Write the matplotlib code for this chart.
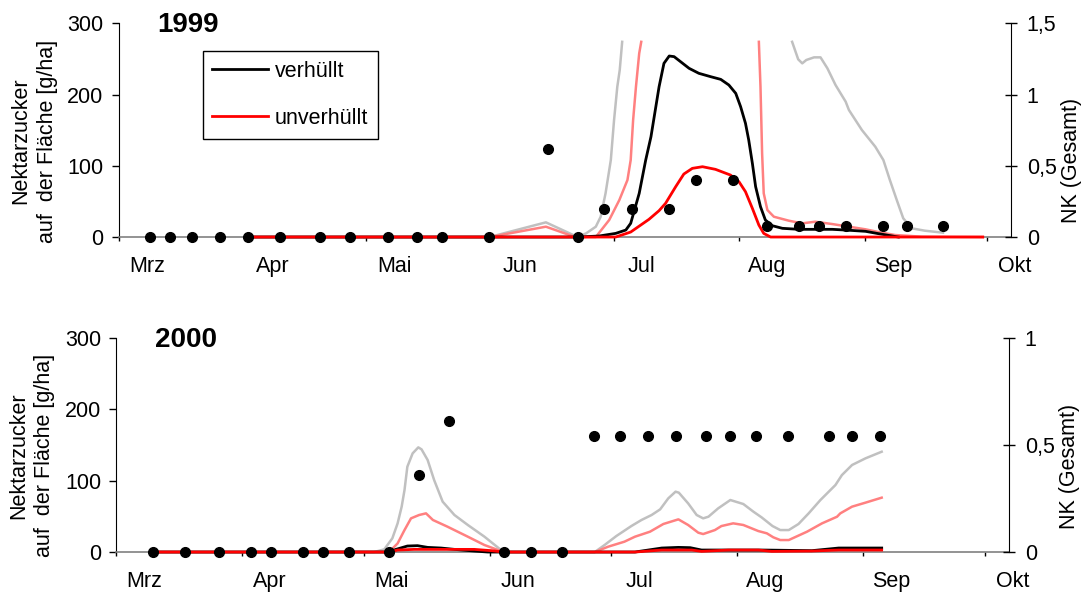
import matplotlib
matplotlib.use("Agg")
import matplotlib.pyplot as plt
from matplotlib.ticker import FuncFormatter
from matplotlib.transforms import ScaledTranslation
import numpy as np

plt.rcParams.update({
    'font.family': ['Liberation Sans', 'DejaVu Sans'],
    'font.size': 15.5,
})

# x axis: days since 1 March
MONTH_START = [0, 31, 61, 92, 122, 153, 184, 214]
MONTH_LABEL = ['Mrz', 'Apr', 'Mai', 'Jun', 'Jul', 'Aug', 'Sep', 'Okt']

# ---- 1999 --------------------------------------------------------------
nk99_day = [7.6, 12.6, 18.0, 25.0, 31.8, 39.8, 49.6, 56.9, 66.3, 73.6, 79.7, 91.3,
            105.7, 113.1, 119.5, 126.4, 135.7, 142.2, 151.5, 159.9, 167.7, 172.7,
            179.4, 188.4, 194.3, 203.2]
nk99 = [0, 0, 0, 0, 0, 0, 0, 0, 0, 0, 0, 0,
        0.62, 0, 0.2, 0.2, 0.2, 0.4, 0.4, 0.08, 0.08, 0.08, 0.08, 0.08, 0.08, 0.08]

black99_day = [31.8, 113.1, 118.4, 122.5, 125.0, 126.2, 128.3, 129.9, 131.2, 132.0,
               133.2, 134.4, 135.7, 136.9, 138.5, 140.6, 143.0, 145.9, 148.4, 150.4,
               152.1, 153.3, 154.5, 155.3, 156.2, 157.0, 158.2, 159.4, 161.1, 163.6,
               167.7, 175.9, 180.0, 184.1, 187.3, 192.2]
black99 = [0, 0, 1.4, 5.1, 9.8, 19.2, 61.3, 108, 140.8, 168.9,
           211, 243.8, 254.1, 253.2, 246.1, 236.8, 229.8, 225.1, 221.3, 213.4,
           201.7, 183, 159.6, 136.2, 103.4, 70.7, 42.6, 23.9, 15.9, 12.2,
           10.8, 10.8, 9.5, 8.0, 4.7, 0]

red99_day = [31.8, 122.5, 126.2, 130.7, 133.2, 134.8, 137.3, 139.3, 141.4, 143.9,
             147.1, 150.8, 152.9, 154.5, 156.2, 157.8, 159.0, 160.7, 213.0]
red99 = [0, 0, 7, 24.8, 37, 47.3, 70.7, 88.4, 96.4, 98.7,
         95, 87, 77.6, 63.6, 40.2, 16.8, 5.1, 0, 0]

gray99_day = [31.8, 91.4, 105.3, 113.1, 115.2, 117.6, 118.8, 120.0, 121.3, 122.1,
              122.9, 123.5, 124.1, np.nan, 166.0, 167.5, 168.5, 169.5, 171.4, 173.0,
              174.7, 176.7, 179.2, 180.0, 183.2, 186.5, 188.5, 190.1, 191.8, 193.4,
              195.5, 198.7, 203.2]
gray99 = [0, 0, 20.6, 0, 5.1, 14.5, 28.5, 61.3, 108, 164.2,
          211, 234.4, 274, np.nan, 274, 249.4, 243.8, 248.5, 252.2, 252.2,
          236.8, 213.4, 190, 178.3, 150.2, 126.8, 108, 80, 51.9, 26.2,
          12.2, 8.9, 6.1]

pink99_day = [31.8, 91.4, 105.3, 112.5, 117.6, 120.9, 123.4, 125.4, 126.2, 126.8,
              127.5, 128.3, 128.8, np.nan, 157.8, 158.2, 158.6, 159.0, 159.9, 161.5,
              165.2, 168.5, 171.7, 175.9, 180.0, 184.1, 187.3, 191.4, 198.0, 213.0]
pink99 = [0, 0, 14.5, 0, 0, 23.9, 51.9, 80, 108, 164.2,
          211, 257.8, 274, np.nan, 274, 211, 117.4, 61.3, 37.9, 28.5,
          22.9, 19.2, 21.5, 18.2, 14.5, 10.8, 7, 2.8, 0.5, 0]

# ---- 2000 --------------------------------------------------------------
nk00_day = [8.9, 16.8, 25.2, 33.1, 38.1, 45.9, 50.9, 57.4, 67.2, 74.5, 81.9,
            95.4, 102.2, 109.7, 117.6, 124.1, 130.9, 137.9, 145.3, 151.2, 157.7,
            165.5, 175.6, 181.3, 188.3]
nk00 = [0, 0, 0, 0, 0, 0, 0, 0, 0, 0.36, 0.61,
        0, 0, 0, 0.54, 0.54, 0.54, 0.54, 0.54, 0.54, 0.54,
        0.54, 0.54, 0.54, 0.54]

gray00_day = [8.9, 63.5, 66.0, 68.0, 69.3, 70.3, 71.0, 71.7, 73.0, 74.4,
              75.2, 76.7, 78.3, 80.4, 83.3, 86.6, 90.7, 95.4, 117.9, 120.3,
              123.2, 126.9, 129.4, 131.9, 134.0, 136.0, 137.8, 138.6, 140.9, 143.0,
              144.6, 145.9, 148.3, 151.3, 154.5, 157.0, 159.0, 161.7, 163.6, 165.7,
              168.1, 170.6, 173.5, 177.2, 178.8, 181.3, 184.6, 188.6]
gray00 = [0, 0, 3.7, 19.2, 40.2, 63.6, 86.9, 119.6, 138.3, 146.7,
          143.9, 129, 100.9, 70.6, 51.9, 37.9, 21.5, 0, 0, 9.8,
          22.4, 36.4, 44.9, 51.9, 59.8, 75.2, 84.6, 83.2, 68.2, 51.9,
          47.2, 49.5, 61.2, 72.9, 67.3, 56.5, 48.6, 36.4, 30.8, 30.8,
          39.3, 54.2, 72.9, 93.9, 107.9, 122, 131.3, 140.6]

pink00_day = [8.9, 67.2, 69.3, 71.0, 72.6, 74.6, 76.3, 78.0, 81.6, 86.6,
              90.7, 95.4, 117.9, 121.2, 125.2, 127.8, 131.5, 134.8, 138.5, 140.9,
              143.4, 144.6, 147.5, 149.1, 152.0, 154.5, 158.2, 160.3, 161.9, 163.6,
              165.7, 170.2, 173.9, 177.6, 178.4, 181.3, 184.6, 188.6]
pink00 = [0, 0, 12.1, 30.8, 47.2, 51.9, 54.2, 44.9, 35.5, 21.5,
          9.8, 0, 0, 7.5, 14.5, 21.5, 28.5, 39.3, 45.8, 37.9,
          27.1, 25.2, 30.8, 36.4, 40.2, 37.9, 29.4, 26.2, 20.6, 16.8,
          16.8, 28.5, 40.2, 49.5, 54.2, 63.6, 69.2, 76.2]

black00_day = [8.9, 67.2, 68.9, 71.7, 74.2, 76.7, 80.0, 83.3, 88.2, 91.5,
               127.8, 134.4, 138.5, 141.4, 144.2, 159.0, 171.4, 178.0, 188.6]
black00 = [0, 0, 3.7, 8.4, 8.9, 6.5, 5.6, 3.7, 1.4, 0,
           0, 5.6, 6.5, 6.1, 2.8, 2.8, 1.9, 5.6, 5.6]

red00_day = [8.9, 67.2, 69.3, 73.4, 80.0, 88.2, 92.4, 95.4, 127.8, 134.4,
             141.8, 144.2, 150.9, 158.2, 161.5, 171.4, 178.0, 188.6]
red00 = [0, 0, 2.8, 3.7, 3.7, 3.7, 1.9, 0, 0, 2.8,
         2.8, 0.9, 2.8, 2.8, 0.9, 1.4, 2.8, 2.8]

C_GRAY = '#c0c0c0'
C_PINK = '#ff8080'
C_BLACK = '#000000'
C_RED = '#ff0000'


def comma(v, _pos):
    return f'{v:g}'.replace('.', ',')


def panel(fig, rect, year, series, nk_day, nk, nk_max, nk_ticks, lab_y, nk_lab_y):
    ax = fig.add_axes(rect)
    gray, pink, black, red = series
    ax.plot(*gray, color=C_GRAY, lw=1.8, zorder=3, clip_on=False)
    ax.plot(*pink, color=C_PINK, lw=1.8, zorder=3, clip_on=False)
    ax.plot(*black, color=C_BLACK, lw=2.0, zorder=3, clip_on=False, label='verhüllt')
    ax.plot(*red, color=C_RED, lw=2.0, zorder=3, clip_on=False, label='unverhüllt')

    ax.set_xlim(0, 220)
    ax.set_ylim(0, 300)
    ax.set_yticks([0, 100, 200, 300])
    ax.set_xticks(MONTH_START, MONTH_LABEL)
    ax.tick_params(axis='x', direction='out', length=3, width=1, pad=11)
    ax.tick_params(axis='y', direction='out', length=5, width=1, pad=6)
    # month names sit a little right of their tick (Excel style);
    # shift after tick_params, which would reset the transform
    shift = ScaledTranslation(0.28, 0, fig.dpi_scale_trans)
    for t in ax.xaxis.get_major_ticks():
        t.label1.set_transform(t.label1.get_transform() + shift)
    for s in ('top', 'right'):
        ax.spines[s].set_visible(False)
    ax.spines['bottom'].set_color('#808080')
    ax.spines['bottom'].set_linewidth(1.2)
    ax.set_ylabel('Nektarzucker\nauf  der Fläche [g/ha]', linespacing=1.35,
                  va='center', ha='center')
    ax.yaxis.set_label_coords(-0.095, lab_y)
    ax.text(0.043, 0.99, year, transform=ax.transAxes, ha='left', va='center',
            fontsize=20, fontweight='bold')

    ax2 = ax.twinx()
    ax2.plot(nk_day, nk, 'o', color='black', ms=7, clip_on=False, zorder=5)
    ax2.set_ylim(0, nk_max)
    ax2.set_yticks(nk_ticks)
    ax2.yaxis.set_major_formatter(FuncFormatter(comma))
    ax2.tick_params(axis='y', direction='inout', length=8.6, width=1, pad=7)
    for s in ('top', 'left', 'bottom'):
        ax2.spines[s].set_visible(False)
    ax2.set_ylabel('NK (Gesamt)', va='center', ha='center')
    ax2.yaxis.set_label_coords(1.068, nk_lab_y)
    return ax


fig = plt.figure(figsize=(10.84, 5.93), dpi=100)

ax_top = panel(fig, [0.1096, 0.6003, 0.8232, 0.3604], '1999',
               [(gray99_day, gray99), (pink99_day, pink99),
                (black99_day, black99), (red99_day, red99)],
               nk99_day, nk99, 1.5, [0, 0.5, 1, 1.5], 0.449, 0.36)
ax_top.legend(loc='upper left', bbox_to_anchor=(0.094, 0.869), borderaxespad=0,
              fancybox=False, edgecolor='black', framealpha=1, handlelength=2.6,
              handletextpad=0.3, labelspacing=1.2, borderpad=0.45)
ax_top.get_legend().get_frame().set_linewidth(1.0)

panel(fig, [0.1074, 0.0691, 0.8235, 0.3609], '2000',
      [(gray00_day, gray00), (pink00_day, pink00),
       (black00_day, black00), (red00_day, red00)],
      nk00_day, nk00, 1.0, [0, 0.5, 1], 0.449, 0.40)

fig.savefig('out.png', dpi=100)
